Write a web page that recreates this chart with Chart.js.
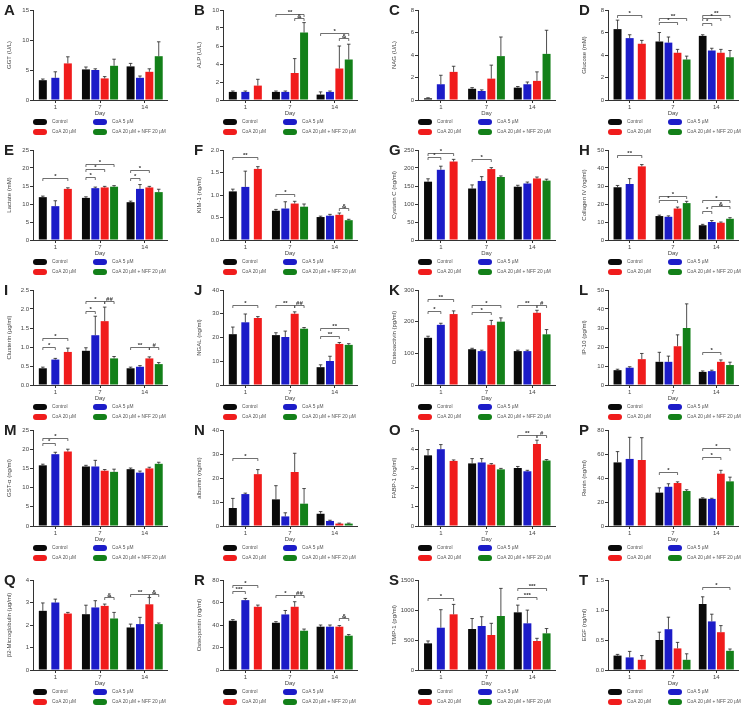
<!DOCTYPE html>
<html>
<head>
<meta charset="utf-8">
<script src="https://cdn.jsdelivr.net/npm/chart.js@4.4.1/dist/chart.umd.min.js"></script>
<style>
  body { margin: 0; background: #fff; }
  #fig { position: relative; width: 755px; height: 711px; overflow: hidden; font-family: Arial, "Liberation Sans", sans-serif; }
  #fig canvas { position: absolute; }
  .letter { position: absolute; font-weight: bold; font-size: 15px; line-height: 15px; color: #222; z-index: 2; }
</style>
</head>
<body>
<div id="fig"></div>
<script>
const days = ["1", "7", "14"];
const groups = ["Control", "CoA 5 µM", "CoA 20 µM", "CoA 20 µM + NFF 20 µM"];

// each *Mean / *Sd: one row per group (Control, CoA 5, CoA 20, CoA 20 + NFF), one value per day
// each *Sig: [day index, from group, to group, bracket height, mark]
const ggtMean = [[3.3, 5.1, 5.6], [3.7, 5.0, 3.7], [6.1, 3.6, 4.7], [null, 5.7, 7.3]];
const ggtSd = [[0.2, 0.4, 0.5], [1.0, 0.2, 0.3], [1.1, 0.3, 0.5], [null, 1.1, 2.4]];
const ggtSig = [];

const alpMean = [[0.9, 0.9, 0.6], [0.9, 0.9, 0.9], [1.6, 3.0, 3.5], [null, 7.5, 4.5]];
const alpSd = [[0.1, 0.1, 0.3], [0.1, 0.1, 0.1], [0.7, 1.6, 2.5], [null, 1.1, 1.7]];
const alpSig = [[1, 0, 3, 9.6, "**"], [1, 2, 3, 9.1, "&"], [2, 0, 3, 7.4, "*"], [2, 2, 3, 6.9, "&"]];

const nagMean = [[0.15, 1.0, 1.1], [1.4, 0.8, 1.4], [2.5, 1.9, 1.7], [null, 3.9, 4.1]];
const nagSd = [[0.05, 0.1, 0.1], [0.8, 0.1, 0.2], [0.5, 1.2, 0.8], [null, 1.7, 2.1]];
const nagSig = [];

const gluMean = [[6.3, 5.2, 5.7], [5.5, 5.1, 4.4], [5.0, 4.2, 4.2], [null, 3.6, 3.8]];
const gluSd = [[0.8, 0.8, 0.1], [0.3, 0.5, 0.2], [0.3, 0.3, 0.3], [null, 0.3, 0.6]];
const gluSig = [[0, 0, 2, 7.6, "*"], [1, 0, 3, 7.25, "**"], [1, 0, 2, 6.9, "*"], [2, 0, 3, 7.6, "**"], [2, 0, 2, 7.25, "*"], [2, 0, 1, 6.85, "*"]];

const lacMean = [[11.9, 11.7, 10.5], [9.4, 14.4, 14.2], [14.2, 14.6, 14.6], [null, 14.8, 13.3]];
const lacSd = [[0.3, 0.3, 0.3], [1.5, 0.3, 1.2], [0.3, 0.3, 0.3], [null, 0.3, 0.8]];
const lacSig = [[0, 0, 2, 17.2, "*"], [1, 0, 3, 21.0, "*"], [1, 0, 2, 19.7, "*"], [1, 0, 1, 17.5, "*"], [2, 0, 2, 19.4, "*"], [2, 0, 1, 17.2, "*"]];

const kimMean = [[1.08, 0.65, 0.51], [1.18, 0.70, 0.54], [1.58, 0.81, 0.56], [null, 0.74, 0.44]];
const kimSd = [[0.05, 0.03, 0.02], [0.35, 0.15, 0.03], [0.05, 0.05, 0.04], [null, 0.06, 0.02]];
const kimSig = [[0, 0, 2, 1.85, "**"], [1, 0, 2, 1.02, "*"], [2, 2, 3, 0.72, "&"]];

const cysMean = [[162, 143, 148], [195, 164, 157], [218, 197, 171], [null, 175, 165]];
const cysSd = [[8, 10, 4], [10, 12, 4], [6, 4, 4], [null, 3, 4]];
const cysSig = [[0, 0, 2, 243, "*"], [0, 0, 1, 230, "*"], [1, 0, 2, 226, "*"]];

const colMean = [[29.3, 13.3, 8.2], [31.1, 12.9, 10.0], [40.9, 17.5, 9.6], [null, 20.5, 11.8]];
const colSd = [[1, 0.5, 0.5], [3, 0.5, 0.8], [1, 0.8, 0.4], [null, 1, 0.6]];
const colSig = [[0, 0, 2, 47, "**"], [1, 0, 3, 24.7, "*"], [1, 0, 2, 22.5, "*"], [2, 0, 3, 22.4, "*"], [2, 1, 3, 18.8, "&"], [2, 0, 1, 16, "*"]];

const cluMean = [[0.44, 0.90, 0.44], [0.67, 1.31, 0.48], [0.87, 1.68, 0.70], [null, 0.70, 0.55]];
const cluSd = [[0.03, 0.08, 0.03], [0.03, 0.5, 0.03], [0.1, 0.37, 0.04], [null, 0.05, 0.04]];
const cluSig = [[0, 0, 2, 1.25, "*"], [0, 0, 1, 1.0, "*"], [1, 0, 2, 2.2, "*"], [1, 0, 1, 1.95, "*"], [1, 2, 3, 2.2, "##"], [2, 0, 2, 1.0, "**"], [2, 2, 3, 1.0, "#"]];

const ngalMean = [[21.4, 21.0, 7.5], [26.4, 20.2, 10.1], [28.2, 30.0, 17.3], [null, 23.7, 16.9]];
const ngalSd = [[3, 1, 1], [3.5, 2.5, 2], [0.6, 0.8, 0.6], [null, 0.5, 0.5]];
const ngalSig = [[0, 0, 2, 33.5, "*"], [1, 0, 2, 33.8, "**"], [1, 2, 3, 33.8, "##"], [2, 0, 3, 24.1, "**"], [2, 0, 2, 20.7, "**"]];

const osaMean = [[149, 113, 107], [190, 107, 107], [224, 189, 228], [null, 200, 160]];
const osaSd = [[5, 3, 3], [5, 3, 3], [10, 15, 8], [null, 12, 15]];
const osaSig = [[0, 0, 2, 271, "**"], [0, 0, 1, 235, "*"], [1, 0, 3, 254, "*"], [1, 0, 2, 232, "*"], [2, 0, 2, 254, "**"], [2, 2, 3, 254, "#"]];

const ipMean = [[7.8, 12.2, 6.9], [9.1, 12.2, 7.3], [13.6, 20.4, 12.2], [null, 30.0, 10.5]];
const ipSd = [[0.5, 5, 0.5], [0.5, 3, 0.5], [3, 6, 1], [null, 12.7, 1.5]];
const ipSig = [[2, 0, 2, 17.3, "*"]];

const gstMean = [[15.8, 15.5, 14.8], [18.7, 15.5, 13.9], [19.4, 14.4, 15.0], [null, 14.1, 16.2]];
const gstSd = [[0.3, 0.3, 0.3], [0.5, 1.6, 0.4], [0.6, 0.3, 0.3], [null, 0.7, 0.4]];
const gstSig = [[0, 0, 2, 23, "*"], [0, 0, 1, 21.6, "*"]];

const albMean = [[7.5, 11.1, 5.1], [13.3, 4.0, 2.1], [21.6, 22.5, 1.0], [null, 9.3, 1.0]];
const albSd = [[4, 5.7, 0.9], [0.4, 1.5, 0.3], [1.9, 7.8, 0.2], [null, 6.3, 0.2]];
const albSig = [[0, 0, 2, 28.2, "*"]];

const fabpMean = [[3.68, 3.26, 3.02], [4.0, 3.31, 2.85], [3.39, 3.2, 4.27], [null, 2.95, 3.41]];
const fabpSd = [[0.3, 0.25, 0.08], [0.24, 0.2, 0.05], [0.05, 0.05, 0.2], [null, 0.05, 0.05]];
const fabpSig = [[2, 0, 2, 4.75, "**"], [2, 2, 3, 4.75, "#"]];

const renMean = [[53, 27.8, 22.9], [55.9, 32.7, 22.6], [55, 35.8, 43.6], [null, 29.2, 37.2]];
const renSd = [[9, 4, 0.6], [18, 2.5, 0.5], [18.6, 1, 2.8], [null, 1, 3.5]];
const renSig = [[1, 0, 2, 44.9, "*"], [2, 0, 3, 65, "*"], [2, 0, 2, 57.3, "*"]];

const b2mMean = [[2.63, 2.48, 1.89], [3.0, 2.78, 2.04], [2.51, 2.85, 2.92], [null, 2.29, 2.04]];
const b2mSd = [[0.35, 0.4, 0.15], [0.15, 0.3, 0.3], [0.05, 0.08, 0.3], [null, 0.27, 0.05]];
const b2mSig = [[1, 2, 3, 3.25, "&"], [2, 0, 2, 3.37, "**"], [2, 2, 3, 3.37, "&"]];

const opnMean = [[43.8, 42.0, 38.5], [62.1, 49.4, 38.5], [56.2, 56.2, 38.5], [null, 34.9, 30.5]];
const opnSd = [[1, 1, 1.5], [1.5, 3.5, 1.5], [1.5, 4.5, 1], [null, 1.5, 1]];
const opnSig = [[0, 0, 2, 75.4, "*"], [0, 0, 1, 70, "***"], [1, 0, 2, 66.6, "*"], [1, 2, 3, 66.6, "##"], [2, 2, 3, 45.9, "&"]];

const timpMean = [[444, 683, 961], [705, 733, 778], [928, 583, 483], [null, 900, 611]];
const timpSd = [[40, 175, 120], [300, 155, 220], [165, 195, 45], [null, 460, 80]];
const timpSig = [[0, 0, 2, 1206, "*"], [2, 0, 3, 1372, "***"], [2, 0, 2, 1222, "***"]];

const egfMean = [[0.24, 0.5, 1.1], [0.21, 0.68, 0.81], [0.17, 0.36, 0.63], [null, 0.17, 0.32]];
const egfSd = [[0.02, 0.13, 0.12], [0.1, 0.2, 0.12], [0.07, 0.1, 0.11], [null, 0.1, 0.03]];
const egfSig = [[2, 0, 3, 1.38, "*"]];

const panels = [
  { id: "A", title: "GGT (U/L)", mean: ggtMean, sd: ggtSd, sig: ggtSig, max: 15, step: 5, dec: 0 },
  { id: "B", title: "ALP (U/L)", mean: alpMean, sd: alpSd, sig: alpSig, max: 10, step: 2, dec: 0 },
  { id: "C", title: "NAG (U/L)", mean: nagMean, sd: nagSd, sig: nagSig, max: 8, step: 2, dec: 0 },
  { id: "D", title: "Glucose (mM)", mean: gluMean, sd: gluSd, sig: gluSig, max: 8, step: 2, dec: 0 },
  { id: "E", title: "Lactate (mM)", mean: lacMean, sd: lacSd, sig: lacSig, max: 25, step: 5, dec: 0 },
  { id: "F", title: "KIM-1 (ng/ml)", mean: kimMean, sd: kimSd, sig: kimSig, max: 2, step: 0.5, dec: 1 },
  { id: "G", title: "Cystatin C (ng/ml)", mean: cysMean, sd: cysSd, sig: cysSig, max: 250, step: 50, dec: 0 },
  { id: "H", title: "Collagen IV (ng/ml)", mean: colMean, sd: colSd, sig: colSig, max: 50, step: 10, dec: 0 },
  { id: "I", title: "Clusterin (µg/ml)", mean: cluMean, sd: cluSd, sig: cluSig, max: 2.5, step: 0.5, dec: 1 },
  { id: "J", title: "NGAL (ng/ml)", mean: ngalMean, sd: ngalSd, sig: ngalSig, max: 40, step: 10, dec: 0 },
  { id: "K", title: "Osteoactivin (pg/ml)", mean: osaMean, sd: osaSd, sig: osaSig, max: 300, step: 100, dec: 0 },
  { id: "L", title: "IP-10 (pg/ml)", mean: ipMean, sd: ipSd, sig: ipSig, max: 50, step: 10, dec: 0 },
  { id: "M", title: "GST-α (ng/ml)", mean: gstMean, sd: gstSd, sig: gstSig, max: 25, step: 5, dec: 0 },
  { id: "N", title: "albumin (ng/ml)", mean: albMean, sd: albSd, sig: albSig, max: 40, step: 10, dec: 0 },
  { id: "O", title: "FABP-1 (ng/ml)", mean: fabpMean, sd: fabpSd, sig: fabpSig, max: 5, step: 1, dec: 0 },
  { id: "P", title: "Renin (ng/ml)", mean: renMean, sd: renSd, sig: renSig, max: 80, step: 20, dec: 0 },
  { id: "Q", title: "β2-Microglobulin (µg/ml)", mean: b2mMean, sd: b2mSd, sig: b2mSig, max: 4, step: 1, dec: 0 },
  { id: "R", title: "Osteopontin (ng/ml)", mean: opnMean, sd: opnSd, sig: opnSig, max: 80, step: 20, dec: 0 },
  { id: "S", title: "TIMP-1 (pg/ml)", mean: timpMean, sd: timpSd, sig: timpSig, max: 1500, step: 500, dec: 0 },
  { id: "T", title: "EGF (ng/ml)", mean: egfMean, sd: egfSd, sig: egfSig, max: 1.5, step: 0.5, dec: 1 }
];

const barColors = ["#0a0a0a", "#1c1cc8", "#f01c1c", "#138019"];

// page layout (pixels): y-axis line / plot right per column, top tick / x-axis per row
const colAxis = [33, 223, 418, 608];
const colRight = [167, 357, 555, 738];
const rowTop = [10, 150, 290, 430, 580];
const rowAxis = [100, 240, 385, 526, 670];

Chart.defaults.font.family = 'Arial, "Liberation Sans", sans-serif';

const errorBars = {
  id: "errorBars",
  afterDatasetsDraw(chart) {
    const ctx = chart.ctx;
    const yScale = chart.scales.y;
    ctx.save();
    ctx.strokeStyle = "#222";
    ctx.lineWidth = 0.8;
    chart.data.datasets.forEach((ds, i) => {
      const meta = chart.getDatasetMeta(i);
      meta.data.forEach((bar, j) => {
        const v = ds.data[j];
        const e = ds.errors[j];
        if (v == null || e == null) return;
        const top = yScale.getPixelForValue(v + e);
        const half = bar.width * 0.22;
        ctx.beginPath();
        ctx.moveTo(bar.x, bar.y);
        ctx.lineTo(bar.x, top);
        ctx.moveTo(bar.x - half, top);
        ctx.lineTo(bar.x + half, top);
        ctx.stroke();
      });
    });
    ctx.restore();
  }
};

function bracketPlugin(items) {
  return {
    id: "brackets",
    afterDatasetsDraw(chart) {
      const ctx = chart.ctx;
      const yScale = chart.scales.y;
      ctx.save();
      ctx.strokeStyle = "#333";
      ctx.fillStyle = "#333";
      ctx.lineWidth = 0.7;
      ctx.font = "bold 6px Arial";
      ctx.textAlign = "center";
      ctx.textBaseline = "bottom";
      items.forEach(([day, from, to, value, mark]) => {
        const x1 = chart.getDatasetMeta(from).data[day].x;
        const x2 = chart.getDatasetMeta(to).data[day].x;
        const py = Math.round(yScale.getPixelForValue(value)) + 0.5;
        ctx.beginPath();
        ctx.moveTo(x1, py + 2.5);
        ctx.lineTo(x1, py);
        ctx.lineTo(x2, py);
        ctx.lineTo(x2, py + 2.5);
        ctx.stroke();
        ctx.fillText(mark, (x1 + x2) / 2, py + 1);
      });
      ctx.restore();
    }
  };
}

const gridLegend = {
  id: "gridLegend",
  afterDraw(chart) {
    const ctx = chart.ctx;
    const area = chart.chartArea;
    ctx.save();
    ctx.font = "4.8px Arial";
    ctx.textAlign = "left";
    ctx.textBaseline = "middle";
    chart.data.datasets.forEach((ds, i) => {
      const x = area.left + (i % 2) * 60;
      const y = area.bottom + 22 + Math.floor(i / 2) * 10;
      ctx.fillStyle = ds.backgroundColor;
      ctx.beginPath();
      ctx.roundRect(x, y - 3, 14, 6, 3);
      ctx.fill();
      ctx.fillStyle = "#555";
      ctx.fillText(ds.label, x + 19, y);
    });
    ctx.restore();
  }
};

const fig = document.getElementById("fig");

panels.forEach((p, k) => {
  const col = k % 4;
  const row = Math.floor(k / 4);
  const plotH = rowAxis[row] - rowTop[row];
  const left = colAxis[col] - 27;
  const top = rowTop[row] - 9;

  const letter = document.createElement("div");
  letter.className = "letter";
  letter.textContent = p.id;
  letter.style.left = (colAxis[col] - 29) + "px";
  letter.style.top = (rowTop[row] - 8) + "px";
  fig.appendChild(letter);

  const canvas = document.createElement("canvas");
  canvas.width = colRight[col] - left + 12;
  canvas.height = plotH + 9 + 17 + 19;
  canvas.style.left = left + "px";
  canvas.style.top = top + "px";
  fig.appendChild(canvas);

  new Chart(canvas.getContext("2d"), {
    type: "bar",
    data: {
      labels: days,
      datasets: groups.map((name, s) => ({
        label: name,
        data: p.mean[s],
        errors: p.sd[s],
        backgroundColor: barColors[s],
        borderWidth: 0,
        categoryPercentage: 0.84,
        barPercentage: 0.85,
        maxBarThickness: 8,
        skipNull: true
      }))
    },
    options: {
      responsive: false,
      animation: false,
      devicePixelRatio: 1,
      layout: { padding: { top: 9, right: 12, left: 0, bottom: 19 } },
      plugins: { legend: { display: false }, tooltip: { enabled: false } },
      scales: {
        x: {
          grid: { drawOnChartArea: false, drawTicks: true, tickLength: 3, offset: false, color: "#333" },
          border: { display: true, color: "#333", width: 1 },
          ticks: { font: { size: 6 }, color: "#444", padding: 1, maxRotation: 0 },
          title: { display: true, text: "Day", font: { size: 6 }, color: "#444", padding: 0 },
          afterFit(scale) { scale.height = 17; }
        },
        y: {
          min: 0,
          max: p.max,
          grid: { drawOnChartArea: false, drawTicks: true, tickLength: 3, color: "#333" },
          border: { display: true, color: "#333", width: 1 },
          ticks: { stepSize: p.step, font: { size: 6 }, color: "#444", padding: 1, callback: v => v.toFixed(p.dec) },
          title: { display: true, text: p.title, font: { size: 6 }, color: "#444", padding: 0 },
          afterFit(scale) { scale.width = 27; }
        }
      }
    },
    plugins: [errorBars, bracketPlugin(p.sig), gridLegend]
  });
});
</script>
</body>
</html>
